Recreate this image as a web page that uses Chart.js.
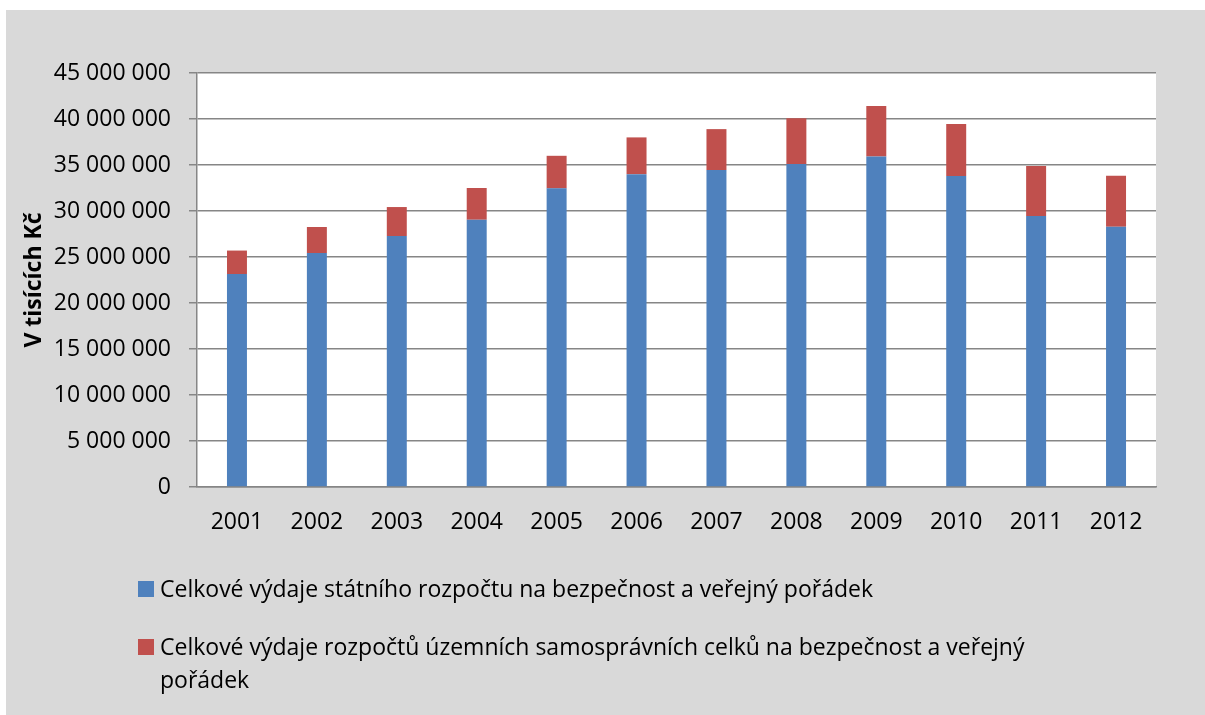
<!DOCTYPE html>
<html>
<head>
<meta charset="utf-8">
<script src="https://cdn.jsdelivr.net/npm/chart.js@4/dist/chart.umd.min.js"></script>
<style>
    html, body { margin: 0; padding: 0; background: #ffffff; }
    #box {
        position: absolute; left: 6px; top: 10px; width: 1199px; height: 705px;
        background: #d9d9d9;
    }
    #wrap { position: absolute; left: 0; top: 0; width: 1205px; height: 715px; }
    #legend {
        position: absolute; left: 138px; top: 572px; width: 922px;
        font-family: 'Open Sans', sans-serif; font-size: 23px; color: #000;
    }
    .li { position: relative; padding-left: 22px; line-height: 33px; margin-bottom: 25px; }
    .li span.sq { position: absolute; left: 0; top: 9px; width: 16px; height: 16px; }
</style>
</head>
<body>
<div id="box"></div>
<div id="wrap"><canvas id="myChart" width="1205" height="715"></canvas></div>
<div id="legend"></div>

<script>
(function () {

    // data
    let roky = ['2001', '2002', '2003', '2004', '2005', '2006', '2007', '2008', '2009', '2010', '2011', '2012'];

    let statni = [23150000, 25430000, 27280000, 29050000, 32460000, 34000000, 34450000, 35100000, 35930000, 33800000, 29450000, 28300000];
    let uzemni = [2550000, 2830000, 3150000, 3450000, 3540000, 4000000, 4450000, 4970000, 5470000, 5650000, 5450000, 5540000];

    let nazvy = [
        'Celkové výdaje státního rozpočtu na bezpečnost a veřejný pořádek',
        'Celkové výdaje rozpočtů územních samosprávních celků na bezpečnost a veřejný pořádek'
    ];
    let barvy = ['#4f81bd', '#c0504d'];

    let osaY = 'V tisících Kč';

    let formatCislo = function (v) {
        return String(v).replace(/\B(?=(\d{3})+(?!\d))/g, ' ');
    };

    // white plot area
    let plotBg = {
        id: 'plotBg',
        beforeDraw: function (chart) {
            let a = chart.chartArea;
            let ctx = chart.ctx;
            ctx.save();
            ctx.fillStyle = '#ffffff';
            ctx.fillRect(a.left, a.top, a.right - a.left, a.bottom - a.top);
            ctx.restore();
        }
    };

    Chart.defaults.font.family = "'Open Sans', sans-serif";
    Chart.defaults.color = '#000000';

    const ctx = document.getElementById('myChart');

    let chart = new Chart(ctx, {
        type: 'bar',
        data: {
            labels: roky,
            datasets: [
                { label: nazvy[0], data: statni, backgroundColor: barvy[0], borderWidth: 0 },
                { label: nazvy[1], data: uzemni, backgroundColor: barvy[1], borderWidth: 0 }
            ]
        },
        plugins: [plotBg],
        options: {
            responsive: false,
            animation: false,
            events: [],
            layout: {
                padding: { left: 0, top: 73, right: 49, bottom: 0 }
            },
            datasets: {
                bar: { barPercentage: 0.25, categoryPercentage: 1 }
            },
            plugins: {
                legend: { display: false },
                tooltip: { enabled: false }
            },
            scales: {
                x: {
                    stacked: true,
                    grid: { display: false, drawTicks: false },
                    border: { display: true, color: '#868686', width: 1.5 },
                    ticks: { font: { size: 23 }, padding: 22, maxRotation: 0 },
                    afterFit: function (s) { s.height = 228; }
                },
                y: {
                    stacked: true,
                    min: 0,
                    max: 45000000,
                    grid: { color: '#868686', lineWidth: 1.5, drawTicks: true, tickLength: 8 },
                    border: { display: true, color: '#868686', width: 1.5 },
                    ticks: {
                        stepSize: 5000000,
                        padding: 18,
                        font: { size: 23 },
                        callback: function (v) { return formatCislo(v); }
                    },
                    title: {
                        display: true,
                        text: osaY,
                        font: { size: 23, weight: 'bold' },
                        padding: { top: 21, bottom: 0 }
                    },
                    afterFit: function (s) { s.width = 197; }
                }
            }
        }
    });

    // legend under the chart
    let legendEl = document.getElementById('legend');
    nazvy.forEach(function (n, i) {
        let d = document.createElement('div');
        d.className = 'li';
        let sq = document.createElement('span');
        sq.className = 'sq';
        sq.style.background = barvy[i];
        d.appendChild(sq);
        d.appendChild(document.createTextNode(n));
        legendEl.appendChild(d);
    });

})();
</script>
</body>
</html>
